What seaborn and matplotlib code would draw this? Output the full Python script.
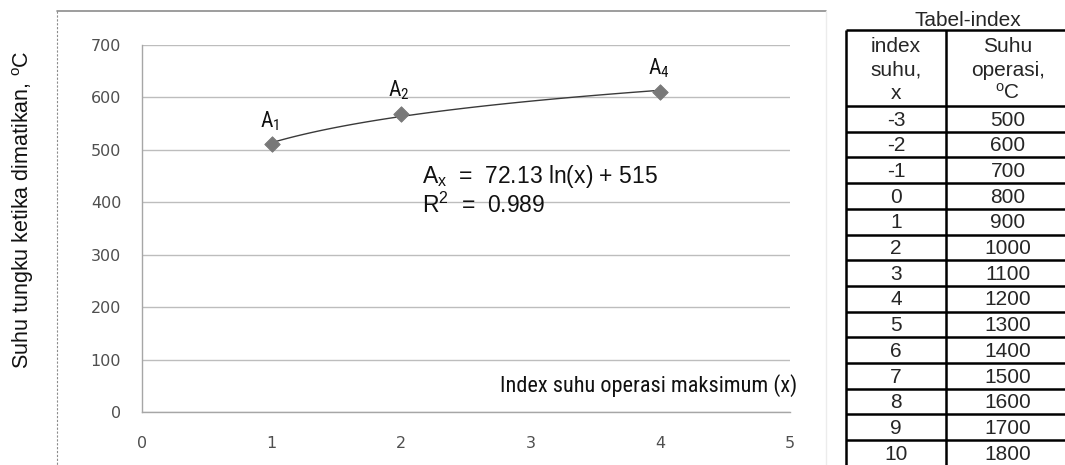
import numpy as np
import pandas as pd
import matplotlib
matplotlib.use("Agg")
import matplotlib.pyplot as plt
from matplotlib.lines import Line2D
import seaborn as sns

# ---------------- data ----------------
x_index = [1, 2, 4]
suhu_tungku = [511, 569, 611]
point_labels = ["A$_\\mathregular{1}$", "A$_\\mathregular{2}$", "A$_\\mathregular{4}$"]
x_ticks = [0, 1, 2, 3, 4, 5]
y_ticks = [0, 100, 200, 300, 400, 500, 600, 700]
eq_lines = ["A$_\\mathregular{x}$  =  72.13 ln(x) + 515", "R$^\\mathregular{2}$  =  0.989"]
x_label = "Index suhu operasi maksimum (x)"
y_label = "Suhu tungku ketika dimatikan, $^\\mathregular{o}$C"

table_title = "Tabel-index"
table_header_col1 = ["index", "suhu,", "x"]
table_header_col2 = ["Suhu", "operasi,", "$^\\mathregular{o}$C"]
table_index = [-3, -2, -1, 0, 1, 2, 3, 4, 5, 6, 7, 8, 9, 10]
table_suhu = [500, 600, 700, 800, 900, 1000, 1100, 1200, 1300, 1400, 1500, 1600, 1700, 1800]

# ---------------- style ----------------
sns.set_theme(style="white")
plt.rcParams["font.family"] = ["Liberation Sans", "DejaVu Sans"]
plt.rcParams["mathtext.fontset"] = "custom"
plt.rcParams["mathtext.rm"] = "Liberation Sans"
plt.rcParams["mathtext.it"] = "Liberation Sans:italic"
plt.rcParams["mathtext.default"] = "regular"

narrow_family = ["Roboto Condensed", "Liberation Sans"]

W, H = 1065, 465
fig = plt.figure(figsize=(W / 100, H / 100), dpi=100)
fig.patch.set_facecolor("white")


def fx(px):
    return px / W


def fy(py):
    return 1 - py / H


# ---------------- main chart ----------------
ax = fig.add_axes([fx(142), fy(412), fx(790) - fx(142), fy(45) - fy(412)])
df = pd.DataFrame({"x": x_index, "y": suhu_tungku})

sns.regplot(data=df, x="x", y="y", logx=True, ci=None, ax=ax, scatter=False,
            line_kws=dict(color="#3a3a3a", lw=1.0), truncate=True)
sns.scatterplot(data=df, x="x", y="y", ax=ax, marker="D", s=62,
                color="#787878", edgecolor="#787878", zorder=5, legend=False)

ax.set_xlim(0, 5)
ax.set_ylim(0, 700)
ax.set_xticks(x_ticks)
ax.set_yticks(y_ticks)
ax.set_xlabel("")
ax.set_ylabel("")
ax.grid(axis="y", color="#bdbdbd", lw=1.0)
ax.set_axisbelow(True)
for s in ["top", "right"]:
    ax.spines[s].set_visible(False)
for s in ["left", "bottom"]:
    ax.spines[s].set_color("#a6a6a6")
    ax.spines[s].set_linewidth(1.0)
ax.tick_params(axis="both", direction="out", color="#a6a6a6", width=1.0,
               labelcolor="#4f4f4f", labelsize=11.5)
ax.tick_params(axis="y", length=6.5, pad=8.5)
ax.tick_params(axis="x", length=4, pad=13.5)
for lab in ax.get_xticklabels() + ax.get_yticklabels():
    lab.set_family(["DejaVu Sans"])

for xi, yi, lab in zip(x_index, suhu_tungku, point_labels):
    ax.annotate(lab, (xi, yi), xytext=(-1.5, 12.2), textcoords="offset points",
                ha="center", va="baseline", fontsize=15.5,
                family=narrow_family, color="#111111")

fig.text(fx(422), fy(183), eq_lines[0], fontsize=16.5, ha="left", va="baseline", color="#111111")
fig.text(fx(422), fy(213), eq_lines[1], fontsize=16.5, ha="left", va="baseline", color="#111111")

fig.text(fx(797), fy(392), x_label, fontsize=16, ha="right", va="baseline",
         family=narrow_family, color="#111111")

fig.text(fx(23), fy(210), y_label, rotation=90, fontsize=15.5,
         ha="center", va="center", color="#111111")

# chart frame
fig.add_artist(Line2D([fx(57), fx(826)], [fy(11), fy(11)], color="#8c8c8c", lw=1.2))
fig.add_artist(Line2D([fx(57), fx(57)], [fy(11), fy(465)], color="#8c8c8c", lw=0.8,
                      ls=(0, (2, 1.5))))
fig.add_artist(Line2D([fx(826), fx(826)], [fy(11), fy(465)], color="#ececec", lw=1.0))

# ---------------- table ----------------
tleft, ttop = 846, 30
tab = fig.add_axes([fx(tleft), 0, 1 - fx(tleft), fy(ttop)])
tab.set_xlim(0, W - tleft)
tab.set_ylim(H - ttop, 0)
tab.set_axis_off()
header_h = 76
row_h = 25.7
col_split = 946 - tleft
col_right = W - tleft + 3
lw_t = 1.8
tsize = 15

tab.hlines([0, header_h], 0, col_right, color="black", lw=lw_t, clip_on=False)
for i in range(len(table_index)):
    tab.hlines(header_h + row_h * (i + 1), 0, col_right, color="black", lw=lw_t, clip_on=False)
tab.vlines([0, col_split], 0, H, color="black", lw=lw_t, clip_on=False)

c1 = col_split / 2
c2 = (col_split + 1064 - tleft) / 2 + 3
header_baselines = [21.7, 45.7, 69.0]
for yb, t1, t2 in zip(header_baselines, table_header_col1, table_header_col2):
    tab.text(c1, yb, t1, ha="center", va="baseline", fontsize=tsize)
    tab.text(c2, yb, t2, ha="center", va="baseline", fontsize=tsize)
for i, (ix, sv) in enumerate(zip(table_index, table_suhu)):
    yb = header_h + row_h * i + 19.5
    tab.text(c1, yb, str(ix), ha="center", va="baseline", fontsize=tsize)
    tab.text(c2, yb, str(sv), ha="center", va="baseline", fontsize=tsize)

fig.text(fx(968), fy(26.5), table_title, ha="center", va="baseline", fontsize=15)

fig.savefig("out.png", dpi=100, facecolor="white")
